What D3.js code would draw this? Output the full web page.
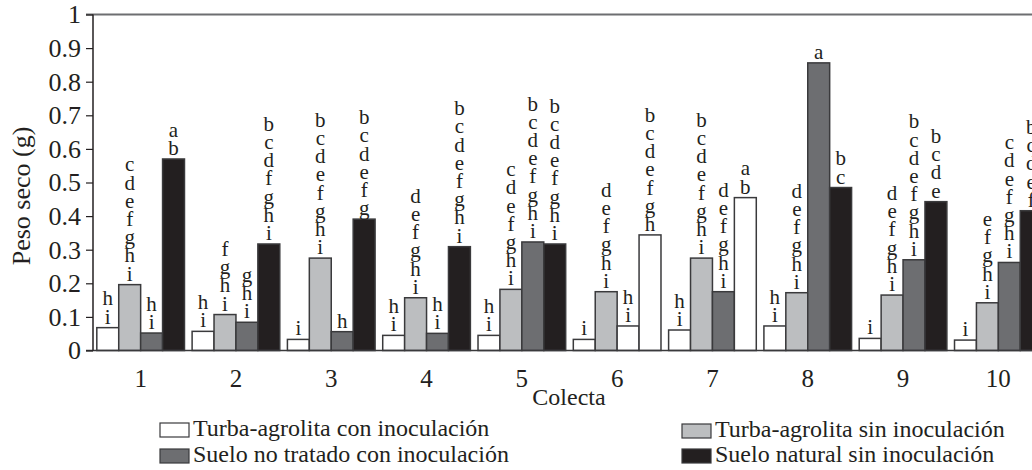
<!DOCTYPE html>
<html>
<head>
<meta charset="utf-8">
<script src="https://cdn.jsdelivr.net/npm/d3@7"></script>
<style>
  body { margin: 0; background: #fff; }
  svg text { font-family: 'Liberation Serif', Tinos, 'Times New Roman', Times, serif !important; fill: #231f20; }
</style>
</head>
<body>
<div id="chart"></div>
<script>
// Colectas and series
var colectas = ['1', '2', '3', '4', '5', '6', '7', '8', '9', '10'];
var series = [
  'Turba-agrolita con inoculación',
  'Turba-agrolita sin inoculación',
  'Suelo no tratado con inoculación',
  'Suelo natural sin inoculación'
];

// Peso seco (g) per serie, one value per colecta
var turbaCon   = [0.068, 0.057, 0.033, 0.045, 0.045, 0.033, 0.061, 0.073, 0.036, 0.031];
var turbaSin   = [0.196, 0.107, 0.275, 0.157, 0.182, 0.175, 0.275, 0.172, 0.165, 0.142];
var sueloNoTr  = [0.052, 0.084, 0.056, 0.051, 0.323, 0.073, 0.175, 0.856, 0.270, 0.262];
var sueloNat   = [0.570, 0.317, 0.391, 0.309, 0.317, 0.344, 0.455, 0.485, 0.443, 0.416];

// significance letters
var letrasTurbaCon  = ['hi', 'hi', 'i', 'hi', 'hi', 'i', 'hi', 'hi', 'i', 'i'];
var letrasTurbaSin  = ['cdefghi', 'fghi', 'bcdefghi', 'defghi', 'cdefghi', 'defghi', 'bcdefghi', 'defghi', 'defghi', 'efghi'];
var letrasSueloNoTr = ['hi', 'ghi', 'h', 'hi', 'bcdefghi', 'hi', 'defghi', 'a', 'bcdefghi', 'cdefghi'];
var letrasSueloNat  = ['ab', 'bcdfghi', 'bcdefg', 'bcdefghi', 'bcdefghi', 'bcdefgh', 'ab', 'bc', 'bcde', 'bcdef'];

var yTicks = [0, 0.1, 0.2, 0.3, 0.4, 0.5, 0.6, 0.7, 0.8, 0.9, 1];

var valores = [turbaCon, turbaSin, sueloNoTr, sueloNat];
var letras = [letrasTurbaCon, letrasTurbaSin, letrasSueloNoTr, letrasSueloNat];

var colors = ['#ffffff', '#bcbec0', '#6d6e71', '#231f20'];
// bars drawn white in the original figure (colecta index - serie index)
var whiteBars = ['5-2', '5-3', '6-3'];

var chart_width  = 1032;
var chart_height = 470;

var svg = d3.select('#chart')
    .append('svg')
    .attr('width', chart_width)
    .attr('height', chart_height);

// scales
var x0 = d3.scaleBand()
    .domain(colectas)
    .range([93, 1046])
    .paddingInner(0.08)
    .paddingOuter(0.04);

var x1 = d3.scaleBand()
    .domain(d3.range(series.length))
    .range([0, x0.bandwidth()]);

var y = d3.scaleLinear()
    .domain([0, 1])
    .range([350.5, 14.5]);

// flat list of bars
var bars = [];
colectas.forEach(function(c, i){
  valores.forEach(function(v, s){
    bars.push({ c: c, i: i, s: s, v: v[i], l: letras[s][i] });
  });
});

// top frame line
svg.append('line')
    .attr('x1', 86).attr('x2', chart_width)
    .attr('y1', y(1)).attr('y2', y(1))
    .attr('stroke', '#6d6e71').attr('stroke-width', 2);

// bars
svg.selectAll('rect.bar')
    .data(bars)
    .enter()
    .append('rect')
    .attr('class', 'bar')
    .attr('x', function(d){ return x0(d.c) + x1(d.s); })
    .attr('y', function(d){ return y(d.v); })
    .attr('width', x1.bandwidth())
    .attr('height', function(d){ return y(0) - y(d.v); })
    .attr('fill', function(d){
      return whiteBars.indexOf(d.i + '-' + d.s) >= 0 ? '#ffffff' : colors[d.s];
    })
    .attr('stroke', '#3a3a3c')
    .attr('stroke-width', 1.5);

// letters stacked above bars
var letterGroups = svg.selectAll('text.letras')
    .data(bars)
    .enter()
    .append('text')
    .attr('class', 'letras')
    .attr('text-anchor', 'middle')
    .attr('font-size', 21);

letterGroups.each(function(d){
  var chars = d.l.split('');
  var cx = x0(d.c) + x1(d.s) + x1.bandwidth() / 2;
  var base = y(d.v) - 4;
  d3.select(this).selectAll('tspan')
      .data(chars)
      .enter()
      .append('tspan')
      .attr('x', cx)
      .attr('y', function(ch, k){ return base - (chars.length - 1 - k) * 18.2; })
      .text(function(ch){ return ch; });
});

// bottom axis
svg.append('line')
    .attr('x1', 86).attr('x2', chart_width)
    .attr('y1', y(0)).attr('y2', y(0))
    .attr('stroke', '#3a3a3c').attr('stroke-width', 1.5);

// y axis
var yAxis = d3.axisLeft(y)
    .tickValues(yTicks)
    .tickSize(7)
    .tickFormat(function(d){ return d3.format('')(+d.toFixed(1)); });

var gy = svg.append('g')
    .attr('transform', 'translate(93,0)')
    .call(yAxis);

gy.select('.domain')
    .attr('stroke', '#231f20')
    .attr('stroke-width', 1.5)
    .attr('d', 'M0,' + y(1) + 'V' + y(0));
gy.selectAll('.tick line').attr('stroke', '#231f20').attr('stroke-width', 1.2);
gy.selectAll('.tick text')
    .attr('x', -12)
    .attr('font-size', 26)
    .attr('fill', '#231f20');

// x category labels
svg.selectAll('text.cat')
    .data(colectas)
    .enter()
    .append('text')
    .attr('class', 'cat')
    .attr('x', function(d){ return x0(d) + x0.bandwidth() / 2; })
    .attr('y', 387)
    .attr('text-anchor', 'middle')
    .attr('font-size', 25)
    .text(function(d){ return d; });

// axis titles
svg.append('text')
    .attr('x', 569)
    .attr('y', 405)
    .attr('text-anchor', 'middle')
    .attr('font-size', 24)
    .text('Colecta');

svg.append('text')
    .attr('transform', 'translate(30,196) rotate(-90)')
    .attr('text-anchor', 'middle')
    .attr('font-size', 26)
    .text('Peso seco (g)');

// legend
var legendPos = [
  { x: 160, y: 436 },
  { x: 682, y: 437 },
  { x: 160, y: 462 },
  { x: 682, y: 462 }
];

var legend = svg.selectAll('g.legend')
    .data(series)
    .enter()
    .append('g')
    .attr('class', 'legend')
    .attr('transform', function(d, i){
      return 'translate(' + legendPos[i].x + ',' + legendPos[i].y + ')';
    });

legend.append('rect')
    .attr('x', 0)
    .attr('y', -13)
    .attr('width', 29)
    .attr('height', 14)
    .attr('fill', function(d, i){ return colors[i]; })
    .attr('stroke', '#3a3a3c')
    .attr('stroke-width', 1.2);

legend.append('text')
    .attr('x', 33)
    .attr('y', 0)
    .attr('font-size', 24)
    .text(function(d){ return d; });
</script>
</body>
</html>
